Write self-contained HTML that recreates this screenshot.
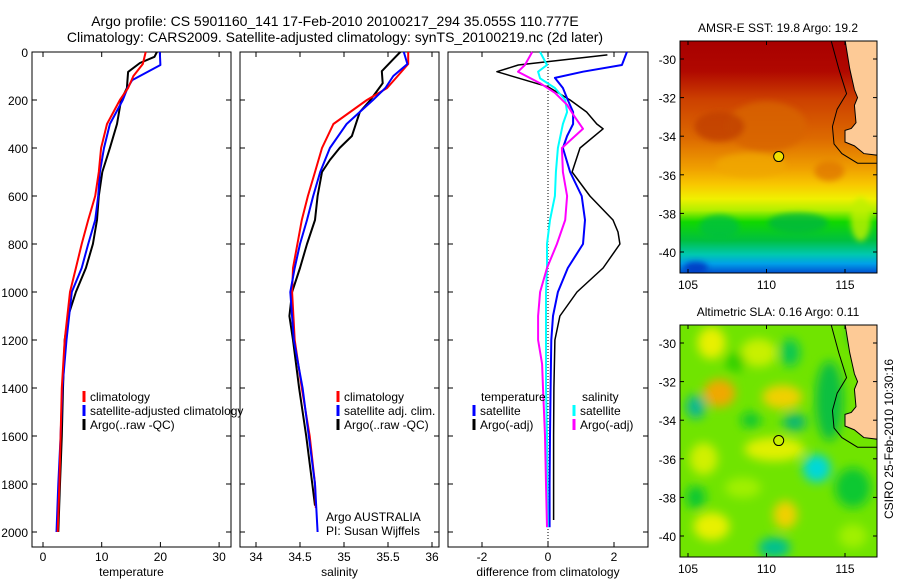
<!DOCTYPE html>
<html><head><meta charset="utf-8">
<style>
html,body{margin:0;padding:0;background:#fff;}
svg{display:block;font-family:"Liberation Sans",sans-serif;}
</style></head>
<body>
<svg id="chart" width="900" height="580" viewBox="0 0 900 580" xmlns="http://www.w3.org/2000/svg">
<defs>
<filter id="blur1" x="-10%" y="-10%" width="120%" height="120%"><feGaussianBlur stdDeviation="3"/></filter>
<filter id="blur2" x="-10%" y="-10%" width="120%" height="120%"><feGaussianBlur stdDeviation="5"/></filter>
<clipPath id="clipMap1"><rect x="680" y="41" width="197" height="232"/></clipPath>
<clipPath id="clipMap2"><rect x="680" y="325" width="197" height="232"/></clipPath>
<linearGradient id="sstGrad" x1="0" y1="0" x2="0" y2="1">
<stop offset="0" stop-color="#a80000"/><stop offset="0.13" stop-color="#b00800"/>
<stop offset="0.25" stop-color="#cc4000"/><stop offset="0.42" stop-color="#dd6a00"/>
<stop offset="0.55" stop-color="#f0a000"/><stop offset="0.62" stop-color="#f8c800"/>
<stop offset="0.68" stop-color="#f0f000"/><stop offset="0.73" stop-color="#b0f000"/>
<stop offset="0.78" stop-color="#10d800"/><stop offset="0.86" stop-color="#00c040"/>
<stop offset="0.92" stop-color="#00c8b0"/><stop offset="0.96" stop-color="#00a0e8"/>
<stop offset="1" stop-color="#0050d0"/></linearGradient>
</defs>
<g id="root"></g>
<text x="335" y="26" font-size="14" text-anchor="middle">Argo profile: CS 5901160_141 17-Feb-2010 20100217_294 35.055S 110.777E</text>
<text x="335" y="42" font-size="14" text-anchor="middle">Climatology: CARS2009. Satellite-adjusted climatology: synTS_20100219.nc (2d later)</text>
</svg>
<script>
// ---------- data ----------
const depthT = [0,50,100,150,200,300,400,500,600,700,800,900,1000,1200,1400,1600,1800,2000];
const tempClim = [17.5,17.0,15.4,14.5,13.1,10.9,9.9,9.5,8.9,7.7,6.6,5.6,4.6,3.7,3.2,3.0,2.8,2.5];
const depthTS = [0,54,117,150,200,300,400,500,600,700,800,900,1000,1200,1400,1600,1800,2000];
const tempSat = [19.9,20.0,15.2,14.4,13.6,11.4,10.4,9.7,9.4,8.9,7.7,6.6,4.9,4.0,3.3,3.0,2.6,2.3];
const depthTA = [0,20,46,83,150,200,300,400,500,600,700,800,900,1000,1100,1200,1400,1600,1800,2000];
const tempArgo = [19.4,19.0,16.5,14.5,14.3,13.3,12.6,11.4,10.1,9.5,9.2,8.5,7.3,5.6,4.3,3.7,3.4,3.2,2.9,2.6];

const depthS = [0,50,100,150,200,300,400,500,600,700,800,900,1000,1200,1400,1600,1800,1900];
const salClim = [35.73,35.73,35.61,35.49,35.26,34.88,34.75,34.67,34.59,34.52,34.47,34.42,34.41,34.44,34.52,34.61,34.67,34.68];
const depthSS = [0,50,100,150,200,300,400,500,600,700,800,900,1000,1200,1400,1600,1800,2000];
const salSat = [35.68,35.72,35.56,35.47,35.33,35.03,34.84,34.73,34.65,34.58,34.5,34.44,34.39,34.43,34.53,34.6,34.67,34.7];
const depthSA = [0,30,80,130,200,250,350,400,450,500,600,700,800,900,1000,1100,1200,1400,1600,1800,1890];
const salArgo = [35.64,35.56,35.43,35.44,35.3,35.18,35.09,34.95,34.84,34.75,34.7,34.67,34.58,34.5,34.41,34.38,34.42,34.49,34.57,34.64,34.67];

const depthDT = [12,54,82,145,200,250,300,320,400,500,600,700,750,800,900,1000,1100,1200,1400,1600,1800,1950];
const diffTempArgo = [1.8,-0.9,-1.55,0,0.67,1.17,1.48,1.67,0.97,0.73,1.27,1.97,2.12,2.18,1.67,0.88,0.36,0.21,0.18,0.17,0.17,0.17];
const depthDS = [0,54,82,108,150,200,250,300,350,400,500,600,700,800,900,1000,1100,1200,1400,1600,1800,1980];
const diffTempSat = [2.39,2.24,1.06,0.21,0.45,0.6,0.76,0.76,0.58,0.45,0.67,1.02,1.12,1.06,0.6,0.3,0.15,0.1,0.08,0.06,0.05,0.05];
const depthDC = [0,54,82,110,150,200,250,300,400,500,600,700,800,900,1000,1200,1400,1600,1800,1980];
const diffSalSat = [-0.24,-0.03,-0.3,-0.24,0.21,0.52,0.58,0.45,0.3,0.24,0.21,0.06,-0.03,-0.03,-0.06,-0.06,-0.06,-0.03,-0.02,-0.01];
const depthDM = [0,54,82,130,170,220,260,320,400,500,600,700,800,900,1000,1100,1200,1300,1400,1600,1800,1980];
const diffSalArgo = [-0.48,-0.7,-0.91,-0.24,0.21,0.58,0.76,1.06,0.42,0.45,0.58,0.52,0.27,-0.03,-0.24,-0.3,-0.3,-0.18,-0.15,-0.09,-0.06,-0.03];

const depthTicks = [0,200,400,600,800,1000,1200,1400,1600,1800,2000];
const tempTicks = [0,10,20,30];
const salTicks = [34,34.5,35,35.5,36];
const diffTicks = [-2,0,2];
const lonTicks = [105,110,115];
const latTicks = [-30,-32,-34,-36,-38,-40];
const floatLon = [110.777];
const floatLat = [-35.055];

// ---------- helpers ----------
const NS = "http://www.w3.org/2000/svg";
const root = document.getElementById('root');
function mk(tag, attrs, parent){ const e=document.createElementNS(NS,tag); for(const k in attrs) e.setAttribute(k,attrs[k]); (parent||root).appendChild(e); return e; }
const yD = d => 52 + d*0.24;
const panels = [
  {x0:32,x1:231,xs:v=>43+5.87*v,ticks:tempTicks,label:'temperature',name:'temperature'},
  {x0:240,x1:439,xs:v=>256+88*(v-34),ticks:salTicks,label:'salinity',name:'salinity'},
  {x0:448,x1:648,xs:v=>548+33*v,ticks:diffTicks,label:'difference from climatology',name:'difference'}
];
function frame(p, i){
  const r = mk('rect',{x:p.x0,y:52,width:p.x1-p.x0,height:495,fill:'none',stroke:'#000','stroke-width':1});
  
  
  p.ticks.forEach(t=>{
    const x=p.xs(t);
    mk('line',{x1:x,y1:547,x2:x,y2:542,stroke:'#000'});
    mk('line',{x1:x,y1:52,x2:x,y2:57,stroke:'#000'});
    const tx = mk('text',{x:x,y:561,'font-size':12,'text-anchor':'middle'}); tx.textContent=t;
    
    
  });
  depthTicks.forEach(d=>{
    const y=yD(d);
    mk('line',{x1:p.x0,y1:y,x2:p.x0+5,y2:y,stroke:'#000'});
    mk('line',{x1:p.x1,y1:y,x2:p.x1-5,y2:y,stroke:'#000'});
    if(i===0){
      const tx=mk('text',{x:28,y:y+5,'font-size':12,'text-anchor':'end'}); tx.textContent=d;
      
      
    }
  });
  const lb = mk('text',{x:(p.x0+p.x1)/2,y:576,'font-size':12,'text-anchor':'middle'}); lb.textContent=p.label;
  
  
}
function series(p, depths, vals, color, name, w){
  const pts = depths.map((d,j)=>p.xs(vals[j]).toFixed(1)+','+yD(d).toFixed(1)).join(' ');
  const pl = mk('polyline',{points:pts,fill:'none',stroke:color,'stroke-width':w||2,'stroke-linejoin':'round'});
  
  
}
function legend(x, y, color, label, name){
  if(color) mk('line',{x1:x,y1:y-6,x2:x,y2:y+5,stroke:color,'stroke-width':3});
  const t = mk('text',{x:x+6,y:y+4,'font-size':12}); t.textContent=label;
  
  
}
panels.forEach(frame);
const zl = mk('line',{x1:panels[2].xs(0),y1:52,x2:panels[2].xs(0),y2:547,stroke:'#000','stroke-dasharray':'1,2'});



series(panels[0], depthTA, tempArgo, '#000', 'temperature-argo-line');
series(panels[0], depthTS, tempSat, '#0000ff', 'temperature-satellite-line');
series(panels[0], depthT, tempClim, '#ff0000', 'temperature-climatology-line');
series(panels[1], depthSA, salArgo, '#000', 'salinity-argo-line');
series(panels[1], depthS, salClim, '#ff0000', 'salinity-climatology-line');
series(panels[1], depthSS, salSat, '#0000ff', 'salinity-satellite-line');
series(panels[2], depthDT, diffTempArgo, '#000', 'diff-temperature-argo-line', 1.5);
series(panels[2], depthDS, diffTempSat, '#0000ff', 'diff-temperature-satellite-line');
series(panels[2], depthDC, diffSalSat, '#00ffff', 'diff-salinity-satellite-line');
series(panels[2], depthDM, diffSalArgo, '#ff00ff', 'diff-salinity-argo-line');

legend(84,397,'#ff0000','climatology','legend-climatology');
legend(84,411,'#0000ff','satellite-adjusted climatology','legend-satellite-adjusted');
legend(84,425,'#000','Argo(..raw -QC)','legend-argo');
legend(338,397,'#ff0000','climatology','legend-sal-climatology');
legend(338,411,'#0000ff','satellite adj. clim.','legend-sal-satellite');
legend(338,425,'#000','Argo(..raw -QC)','legend-sal-argo');
legend(475,397,null,'temperature','legend-temperature-header');
legend(474,411,'#0000ff','satellite','legend-diff-temp-satellite');
legend(474,425,'#000','Argo(-adj)','legend-diff-temp-argo');
legend(576,397,null,'salinity','legend-salinity-header');
legend(574,411,'#00ffff','satellite','legend-diff-sal-satellite');
legend(574,425,'#ff00ff','Argo(-adj)','legend-diff-sal-argo');
legend(320,517,null,'Argo AUSTRALIA','credit-argo-australia');
legend(320,531,null,'PI: Susan Wijffels','credit-pi');

// ---------- maps ----------
const lonX = l => 688 + (l-105)*15.7;
function mapFrame(y0, latY, title, name, field){
  const g = mk('g',{'clip-path':'url(#clip'+(y0<100?'Map1':'Map2')+')'});
  
  
  field(g, latY);
  const land = [[115.0,-29],[115.3,-30.5],[115.6,-31.6],[115.8,-32.0],[115.6,-32.4],[115.7,-33.3],[115.4,-33.6],[115.0,-33.7],[115.0,-34.3],[115.6,-34.5],[116.2,-34.9],[117.2,-35.0],[117.2,-29]];
  const lp = mk('polygon',{points:land.map(p=>lonX(p[0])+','+latY(p[1])).join(' '),fill:'#fdca96',stroke:'#000','stroke-width':1},g);
  
  
  const iso = [[114.1,-29],[114.6,-30.5],[115.1,-31.8],[114.5,-32.6],[114.2,-33.5],[114.3,-34.4],[114.8,-34.9],[115.8,-35.4],[117.2,-35.4]];
  const ip = mk('polyline',{points:iso.map(p=>lonX(p[0])+','+latY(p[1])).join(' '),fill:'none',stroke:'#000','stroke-width':1},g);
  
  
  const fc = mk('circle',{cx:lonX(floatLon[0]),cy:latY(floatLat[0]),r:5,fill:name==='sst-map'?'#f0e000':'#c8f000',stroke:'#000'});
  
  
  const fr = mk('rect',{x:680,y:y0,width:197,height:232,fill:'none',stroke:'#000'});
  
  
  lonTicks.forEach(l=>{
    const x=lonX(l);
    mk('line',{x1:x,y1:y0,x2:x,y2:y0+4,stroke:'#000'});
    mk('line',{x1:x,y1:y0+232,x2:x,y2:y0+228,stroke:'#000'});
    const t=mk('text',{x:x,y:y0+248,'font-size':12,'text-anchor':'middle'}); t.textContent=l;
    
    
  });
  latTicks.forEach(la=>{
    const y=latY(la);
    mk('line',{x1:680,y1:y,x2:684,y2:y,stroke:'#000'});
    mk('line',{x1:877,y1:y,x2:873,y2:y,stroke:'#000'});
    const t=mk('text',{x:676,y:y+5,'font-size':12,'text-anchor':'end'}); t.textContent=la;
    
    
  });
  const tt=mk('text',{x:778,y:y0-9,'font-size':12,'text-anchor':'middle'}); tt.textContent=title;
  
  
}
mapFrame(41, la=>59+(-30-la)*19.3, 'AMSR-E SST: 19.8 Argo: 19.2', 'sst-map', (g,latY)=>{
  mk('rect',{x:680,y:41,width:197,height:232,fill:'url(#sstGrad)'},g);
  const bg = mk('g',{filter:'url(#blur1)'},g);
  [[110,-33.5,40,25,'#d86400'],[107,-33.5,25,15,'#c04000'],[109,-35.5,35,12,'#f0a800'],[114,-35.8,15,10,'#e07800'],[107,-38.7,20,12,'#00c040'],[112,-38.5,30,10,'#00b840'],[116,-38.3,10,22,'#c0f000'],[105.5,-40.8,12,6,'#0030c0']].forEach(b=>{
    mk('ellipse',{cx:lonX(b[0]),cy:latY(b[1]),rx:b[2],ry:b[3],fill:b[4],opacity:0.8},bg);
  });
});
mapFrame(325, la=>343+(-30-la)*19.3, 'Altimetric SLA: 0.16 Argo: 0.11', 'sla-map', (g,latY)=>{
  mk('rect',{x:680,y:325,width:197,height:232,fill:'#70e400'},g);
  const bg = mk('g',{filter:'url(#blur2)'},g);
  const blobs = [
    [106.5,-30,14,16,'#e8f000'],[109.5,-30.5,18,14,'#c8f000'],[111.5,-30.5,10,14,'#10c850'],[108,-31,10,10,'#30d000'],
    [107,-32.6,16,14,'#f0a800'],[111,-32.8,20,12,'#f0d000'],[105.5,-33.3,10,12,'#10b890'],[109,-34,10,8,'#10c830'],
    [111.8,-34.1,12,9,'#10b870'],[110.5,-35.5,30,12,'#e0f000'],[106,-36,14,16,'#d0f000'],[113.2,-36.5,14,14,'#00d8d8'],
    [114,-33,14,40,'#10c040'],[105.5,-38,10,12,'#10c830'],[106.5,-39.5,18,14,'#e8f000'],[111.2,-38.9,12,14,'#f0d000'],
    [110.5,-40.6,16,10,'#00c090'],[115.5,-37.5,18,20,'#10c830'],[108.5,-37.5,18,10,'#a0f000'],[115.5,-40,14,12,'#a0f000'],[116.5,-29.5,20,20,'#10c030']];
  blobs.forEach(b=>mk('ellipse',{cx:lonX(b[0]),cy:latY(b[1]),rx:b[2],ry:b[3],fill:b[4]},bg));
});
const st = mk('text',{x:0,y:0,'font-size':12,'text-anchor':'middle',transform:'translate(893,439) rotate(-90)'});
st.textContent='CSIRO 25-Feb-2010 10:30:16';


</script>
</body></html>
